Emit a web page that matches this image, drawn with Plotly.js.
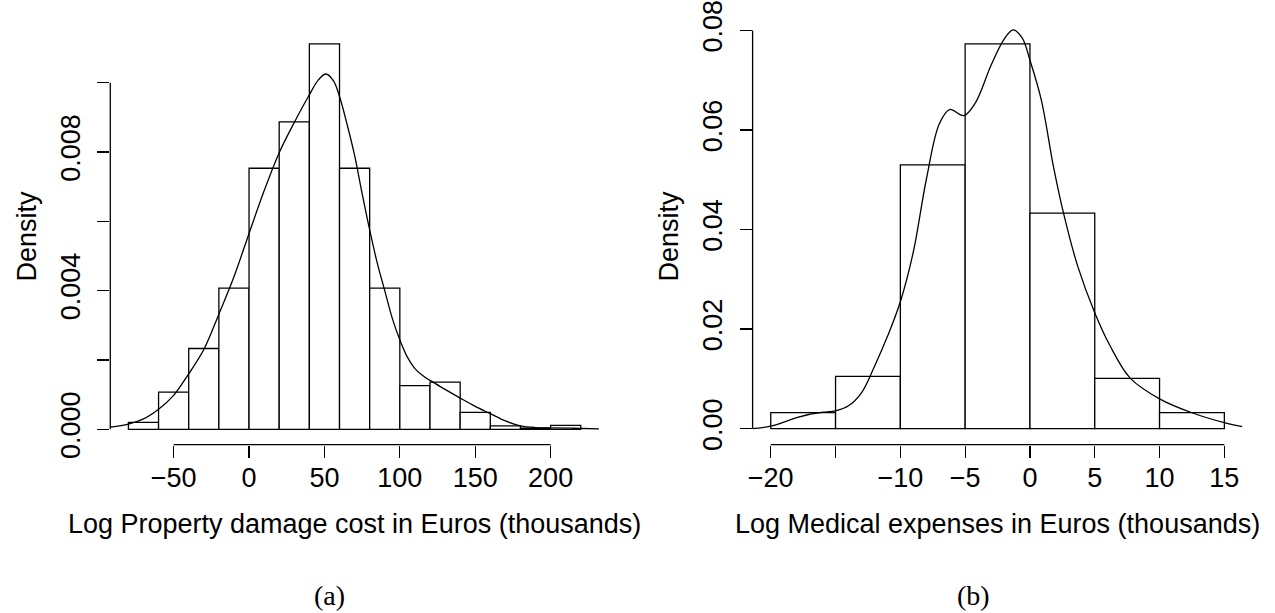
<!DOCTYPE html>
<html>
<head>
<meta charset="utf-8">
<script src="https://cdn.plot.ly/plotly-3.0.1.min.js"></script>
<style>html,body{margin:0;padding:0;background:#fff;}#chart{width:1275px;height:613px;}</style>
</head>
<body>
<div id="chart"></div>
<script>
// ---- Panel (a): property damage ----
const leftBreaks = [-80,-60,-40,-20,0,20,40,60,80,100,120,140,160,180,200,220];
const leftDensity = [0.0002,0.00107,0.00233,0.00407,0.00753,0.00887,0.01112,0.00753,0.00407,0.00126,0.00136,0.00049,0.0001,0.00003,0.000115];
const leftCurveX = [-92,-80,-70,-60,-50,-40,-30,-20,-10,0,10,20,30,40,46,51,56,60,65,70,75,80,85,90,95,100,105,110,116,122,130,140,150,160,170,180,190,200,215,233];
const leftCurveY = [0.00006,0.00015,0.0003,0.00058,0.00098,0.0016,0.0023,0.00332,0.0044,0.00565,0.00688,0.00798,0.00885,0.00965,0.01008,0.01025,0.01005,0.0096,0.0088,0.0079,0.0068,0.00575,0.0048,0.004,0.0032,0.00258,0.00208,0.00175,0.00152,0.00136,0.00115,0.0009,0.00066,0.00045,0.00024,0.0001,0.00005,0.00004,0.00003,0.00001];
const leftXTicks = [-50,0,50,100,150,200];
const leftYTicks = [0,0.002,0.004,0.006,0.008,0.010];
const leftYLabels = ['0.000','','0.004','','0.008',''];

// ---- Panel (b): medical expenses ----
const rightBreaks = [-20,-15,-10,-5,0,5,10,15];
const rightDensity = [0.00321,0.0105,0.053,0.0773,0.0433,0.0101,0.00321];
const rightCurveX = [-21.4,-20,-19,-18,-17,-16,-15,-14,-13,-12,-11,-10,-9,-8,-7,-6.2,-5.1,-4.2,-3,-2,-1.3,-0.6,0,0.87,1.81,2.59,3.69,5,6.19,7.75,10,12.5,15,16.4];
const rightCurveY = [0,0.0005,0.0013,0.0022,0.0029,0.0033,0.0036,0.0046,0.0072,0.0125,0.0185,0.0255,0.0355,0.05,0.0612,0.0641,0.0629,0.0655,0.073,0.0782,0.0801,0.0785,0.074,0.0661,0.0527,0.0433,0.0326,0.0233,0.0166,0.0101,0.006,0.0032,0.0012,0.0004];
const rightXTicks = [-20,-15,-10,-5,0,5,10,15];
const rightXLabels = ['\u221220','','\u221210','\u22125','0','5','10','15'];
const rightYTicks = [0,0.02,0.04,0.06,0.08];
const rightYLabels = ['0.00','0.02','0.04','0.06','0.08'];

const leftXLabels = leftXTicks.map(v => v < 0 ? '\u2212' + Math.abs(v) : String(v));

function mids(b){ return b.slice(0,-1).map((v,i)=>(v+b[i+1])/2); }
function widths(b){ return b.slice(0,-1).map((v,i)=>b[i+1]-v); }

const FONT = 'Liberation Sans, Arial, Helvetica, sans-serif';
const FS = 27;
const W = 1275, H = 613;

const barStyle = {color:'#ffffff', line:{color:'#000000', width:1.3}};
const curveLine = {color:'#000', width:1.3, shape:'spline', smoothing:1};
const traces = [
  {type:'bar', x:mids(leftBreaks), y:leftDensity, width:widths(leftBreaks), marker:barStyle, xaxis:'x', yaxis:'y'},
  {type:'scatter', mode:'lines', x:leftCurveX, y:leftCurveY, line:curveLine, xaxis:'x', yaxis:'y'},
  {type:'bar', x:mids(rightBreaks), y:rightDensity, width:widths(rightBreaks), marker:barStyle, xaxis:'x2', yaxis:'y2'},
  {type:'scatter', mode:'lines', x:rightCurveX, y:rightCurveY, line:curveLine, xaxis:'x2', yaxis:'y2'}
];

function xAxis(domainPx, range, tickvals, ticktext, title){
  return {domain:[domainPx[0]/W, domainPx[1]/W], range:range, tickmode:'array', tickvals:tickvals, ticktext:ticktext,
    ticks:'outside', ticklen:12, tickwidth:1.3, tickcolor:'#000', showline:false, showgrid:false, zeroline:false,
    tickfont:{family:FONT, size:FS, color:'#000'}, ticklabelstandoff:-3,
    title:{text:title, font:{family:FONT, size:FS, color:'#000'}, standoff:22}, fixedrange:true};
}
function yAxis(domainTopPx, domainBotPx, range, tickvals, ticktext){
  return {domain:[1-domainBotPx/H, 1-domainTopPx/H], range:range, tickmode:'array', tickvals:tickvals, ticktext:ticktext,
    ticks:'outside', ticklen:12, tickwidth:1.3, tickcolor:'#000', showline:false, showgrid:false, zeroline:false,
    tickangle:-90, tickfont:{family:FONT, size:FS, color:'#000'}, ticklabelstandoff:7,
    title:{text:'Density', font:{family:FONT, size:FS, color:'#000'}, standoff:11}, fixedrange:true};
}

const layout = {
  width:W, height:H, margin:{l:0,r:0,t:0,b:0}, paper_bgcolor:'#fff', plot_bgcolor:'#fff', showlegend:false, bargap:0,
  xaxis: Object.assign(xAxis([110.3,598.9], [-92,232], leftXTicks, leftXLabels, 'Log Property damage cost in Euros (thousands)'), {anchor:'y'}),
  yaxis: Object.assign(yAxis(28.4, 444.7, [-0.000445, 0.011565], leftYTicks, leftYLabels), {anchor:'x'}),
  xaxis2: Object.assign(xAxis([752.6,1242.5], [-21.4,16.4], rightXTicks, rightXLabels, 'Log Medical expenses in Euros (thousands)'), {anchor:'y2'}),
  yaxis2: Object.assign(yAxis(28.4, 444.7, [-0.003216, 0.0804], rightYTicks, rightYLabels), {anchor:'x2'}),
  shapes:[
    {type:'line', xref:'x', yref:'y domain', x0:leftXTicks[0], x1:leftXTicks[leftXTicks.length-1], y0:0, y1:0, line:{color:'#000', width:1.3}},
    {type:'line', xref:'x domain', yref:'y', x0:0, x1:0, y0:leftYTicks[0], y1:leftYTicks[leftYTicks.length-1], line:{color:'#000', width:1.3}},
    {type:'line', xref:'x2', yref:'y2 domain', x0:rightXTicks[0], x1:rightXTicks[rightXTicks.length-1], y0:0, y1:0, line:{color:'#000', width:1.3}},
    {type:'line', xref:'x2 domain', yref:'y2', x0:0, x1:0, y0:rightYTicks[0], y1:rightYTicks[rightYTicks.length-1], line:{color:'#000', width:1.3}}
  ],
  annotations:[
    {text:'(a)', xref:'paper', yref:'paper', x:329/W, y:1-595/H, xanchor:'center', yanchor:'middle', showarrow:false, font:{family:'Liberation Serif, Times New Roman, serif', size:28, color:'#000'}},
    {text:'(b)', xref:'paper', yref:'paper', x:973/W, y:1-595/H, xanchor:'center', yanchor:'middle', showarrow:false, font:{family:'Liberation Serif, Times New Roman, serif', size:28, color:'#000'}}
  ]
};

Plotly.newPlot('chart', traces, layout, {staticPlot:true, displayModeBar:false});
</script>
</body>
</html>
